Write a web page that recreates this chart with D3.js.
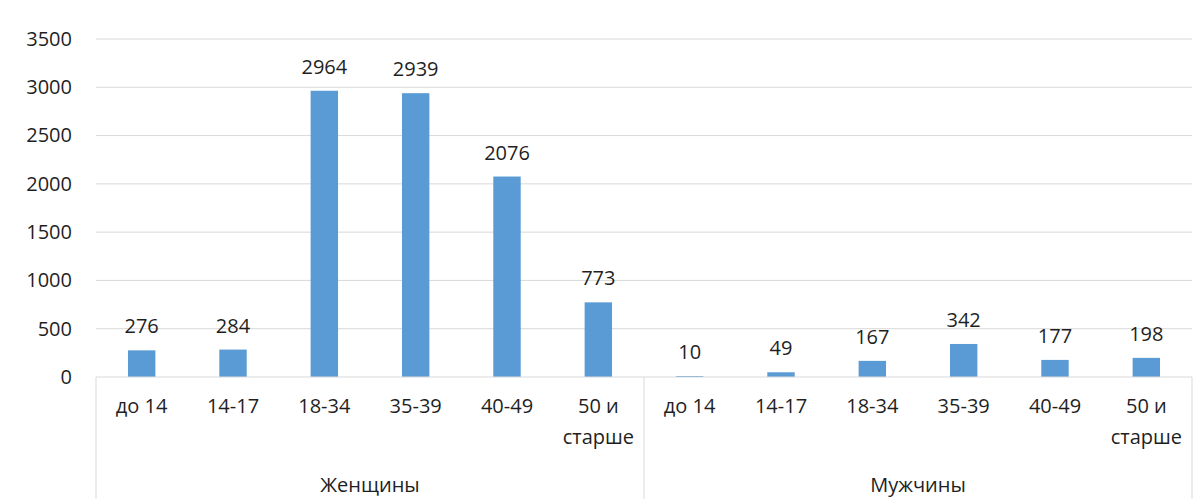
<!DOCTYPE html>
<html>
<head>
<meta charset="utf-8">
<script src="https://cdn.jsdelivr.net/npm/d3@7"></script>
<style>
  body { margin: 0; background: #fff; }
  text { font-family: "Open Sans", "Noto Sans", sans-serif; fill: #1f1f1f; }
</style>
</head>
<body>
<div id="chart"></div>
<script>
var width = 1203;
var height = 499;

// data
var groups = ["Женщины", "Мужчины"];
var ages = ["до 14", "14-17", "18-34", "35-39", "40-49", "50 и старше"];
var women = [276, 284, 2964, 2939, 2076, 773];
var men = [10, 49, 167, 342, 177, 198];
var yTicks = [0, 500, 1000, 1500, 2000, 2500, 3000, 3500];

var rows = [];
groups.forEach(function(g, gi) {
  var vals = gi === 0 ? women : men;
  ages.forEach(function(a, ai) {
    rows.push({ group: g, age: a, value: vals[ai], key: g + "|" + a });
  });
});

var margin = { left: 96, right: 11, top: 39, bottom: 122 };

var svg = d3.select("#chart")
  .append("svg")
  .attr("width", width)
  .attr("height", height);

var x = d3.scaleBand()
  .domain(rows.map(function(d) { return d.key; }))
  .range([margin.left, width - margin.right])
  .paddingInner(0.7)
  .paddingOuter(0.35);

var y = d3.scaleLinear()
  .domain([0, 3500])
  .range([height - margin.bottom, margin.top]);

// gridlines
svg.append("g")
  .selectAll("line")
  .data(yTicks.slice(1))
  .enter()
  .append("line")
  .attr("x1", margin.left)
  .attr("x2", width - margin.right)
  .attr("y1", function(d) { return y(d); })
  .attr("y2", function(d) { return y(d); })
  .attr("stroke", "#d9d9d9")
  .attr("stroke-width", 1);

// y axis labels
var yAxis = d3.axisLeft(y)
  .tickValues(yTicks)
  .tickFormat(d3.format("d"))
  .tickSize(0)
  .tickPadding(24);

svg.append("g")
  .attr("transform", "translate(" + margin.left + ",0)")
  .call(yAxis)
  .call(function(g) { g.select(".domain").remove(); })
  .selectAll("text")
  .style("font-size", "20px")
  .style("font-family", "'Open Sans', sans-serif")
  .attr("fill", "#1f1f1f");

// bars
svg.append("g")
  .selectAll("rect")
  .data(rows)
  .enter()
  .append("rect")
  .attr("x", function(d) { return x(d.key); })
  .attr("width", x.bandwidth())
  .attr("y", function(d) { return y(d.value); })
  .attr("height", function(d) { return y(0) - y(d.value); })
  .attr("fill", "#5b9bd5");

// value labels
svg.append("g")
  .selectAll("text")
  .data(rows)
  .enter()
  .append("text")
  .attr("x", function(d) { return x(d.key) + x.bandwidth() / 2; })
  .attr("y", function(d) { return y(d.value) - 17; })
  .attr("text-anchor", "middle")
  .style("font-size", "20px")
  .text(function(d) { return d.value; });

// category axis: baseline and separators
var step = x.step();
var groupWidth = step * ages.length;
var x0 = margin.left;
var base = y(0);

svg.append("line")
  .attr("x1", x0)
  .attr("x2", width - margin.right)
  .attr("y1", base)
  .attr("y2", base)
  .attr("stroke", "#d9d9d9");

svg.append("g")
  .selectAll("line")
  .data(d3.range(groups.length + 1))
  .enter()
  .append("line")
  .attr("x1", function(i) { return x0 + i * groupWidth; })
  .attr("x2", function(i) { return x0 + i * groupWidth; })
  .attr("y1", base)
  .attr("y2", height)
  .attr("stroke", "#d9d9d9");

// age labels (wrapped)
var ageLabels = svg.append("g")
  .selectAll("text")
  .data(rows)
  .enter()
  .append("text")
  .attr("text-anchor", "middle")
  .style("font-size", "20px")
  .attr("transform", function(d) {
    return "translate(" + (x(d.key) + x.bandwidth() / 2) + "," + (base + 36) + ")";
  });

ageLabels.each(function(d) {
  var parts = d.age === "50 и старше" ? ["50 и", "старше"] : [d.age];
  var t = d3.select(this);
  parts.forEach(function(p, i) {
    t.append("tspan")
      .attr("x", 0)
      .attr("y", i * 31)
      .text(p);
  });
});

// group labels
svg.append("g")
  .selectAll("text")
  .data(groups)
  .enter()
  .append("text")
  .attr("x", function(d, i) { return x0 + i * groupWidth + groupWidth / 2; })
  .attr("y", base + 115)
  .attr("text-anchor", "middle")
  .style("font-size", "20px")
  .text(function(d) { return d; });
</script>
</body>
</html>
